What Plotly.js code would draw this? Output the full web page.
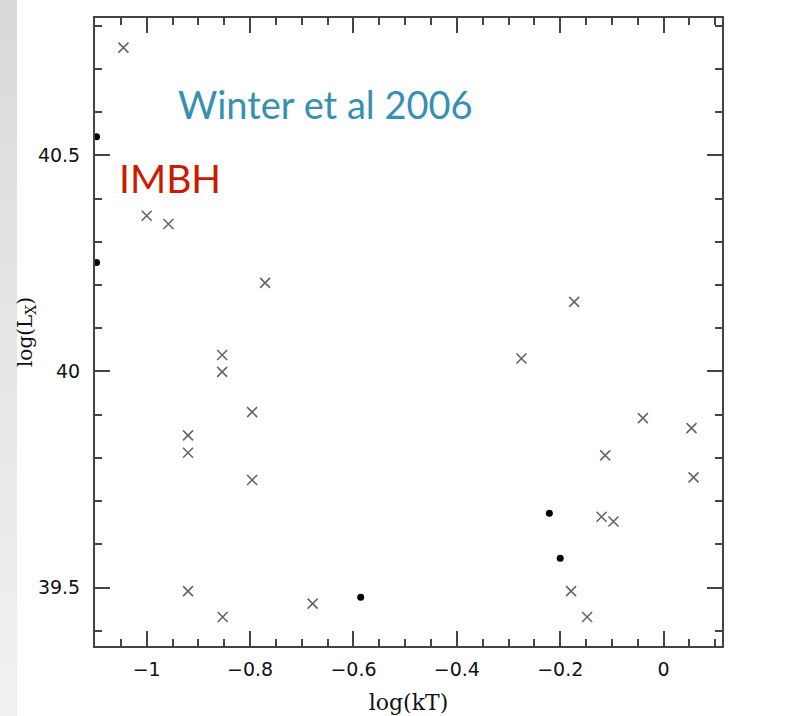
<!DOCTYPE html>
<html>
<head>
<meta charset="utf-8">
<script src="https://cdn.plot.ly/plotly-3.0.1.min.js"></script>
<style>
  html, body { margin: 0; padding: 0; background: #ffffff; }
  #strip { position: absolute; left: 0; top: 0; width: 17px; height: 716px;
           background: linear-gradient(to bottom, #d9d9d9 0%, #e6e6e6 50%, #f1f1f1 100%); z-index: 0; }
  #chart { position: absolute; left: 0; top: 0; width: 787px; height: 716px; z-index: 1; }
</style>
</head>
<body>
<div id="strip"></div>
<div id="chart"></div>
<script>
// Sources shown as crosses: log(kT), log(Lx)
const crossKT = [-1.045, -1.000, -0.958, -0.771, -0.854, -0.854, -0.796, -0.920, -0.920, -0.796,
                 -0.920, -0.853, -0.679, -0.275, -0.173, -0.040, -0.113, 0.054, 0.058, -0.120,
                 -0.097, -0.179, -0.148];
const crossLx = [40.749, 40.360, 40.341, 40.205, 40.038, 39.999, 39.906, 39.852, 39.812, 39.749,
                 39.492, 39.432, 39.463, 40.030, 40.161, 39.892, 39.806, 39.869, 39.755, 39.664,
                 39.653, 39.492, 39.432];
// Sources shown as filled dots
const dotKT = [-1.097, -1.097, -0.221, -0.200, -0.586];
const dotLx = [40.543, 40.252, 39.672, 39.568, 39.478];

const xTitle = 'log(kT)';
const yTitle = 'log(L<sub>X</sub>)';
const note1 = 'Winter et al 2006';
const note2 = 'IMBH';

const axisColor = '#444444';
const tickFont = {family: 'DejaVu Sans', size: 19, color: '#111111'};

const traces = [
  {x: crossKT, y: crossLx, type: 'scatter', mode: 'markers', cliponaxis: false,
   marker: {symbol: 'x-thin-open', size: 10, line: {width: 1.6, color: '#666666'}, color: '#666666'},
   hoverinfo: 'x+y'},
  {x: dotKT, y: dotLx, type: 'scatter', mode: 'markers', cliponaxis: false,
   marker: {symbol: 'circle', size: 7, color: '#000000'}, hoverinfo: 'x+y'}
];

const layout = {
  width: 787, height: 716,
  margin: {l: 95, r: 65, t: 18, b: 70},
  paper_bgcolor: 'rgba(0,0,0,0)',
  plot_bgcolor: '#ffffff',
  showlegend: false,
  xaxis: {
    range: [-1.1, 0.113], tick0: 0, dtick: 0.2, showgrid: false, zeroline: false,
    ticks: 'inside', ticklen: 15, tickwidth: 1.5, tickcolor: axisColor,
    showline: true, linewidth: 2, linecolor: axisColor, mirror: 'allticks',
    tickfont: tickFont, ticklabelstandoff: 5,
    minor: {dtick: 0.05, tick0: 0, ticks: 'inside', ticklen: 7, tickwidth: 1.5, tickcolor: axisColor, showgrid: false},
    title: {text: xTitle, font: {family: 'DejaVu Serif', size: 22, color: '#111111'}, standoff: 16}
  },
  yaxis: {
    range: [39.365, 40.8175], tick0: 0, dtick: 0.5, showgrid: false, zeroline: false,
    ticks: 'inside', ticklen: 15, tickwidth: 1.5, tickcolor: axisColor,
    showline: true, linewidth: 2, linecolor: axisColor, mirror: 'allticks',
    tickfont: tickFont, ticklabelstandoff: 9,
    minor: {dtick: 0.1, tick0: 0, ticks: 'inside', ticklen: 7, tickwidth: 1.5, tickcolor: axisColor, showgrid: false},
    title: {text: yTitle, font: {family: 'DejaVu Serif', size: 20, color: '#111111'}, standoff: 0}
  },
  annotations: [
    {text: note1, x: -0.944, y: 40.619, xref: 'x', yref: 'y', xanchor: 'left', yanchor: 'middle',
     showarrow: false, font: {family: 'Lato', size: 38, color: '#3590B2'}},
    {text: note2, x: -1.058, y: 40.447, xref: 'x', yref: 'y', xanchor: 'left', yanchor: 'middle',
     showarrow: false, font: {family: 'Lato', size: 39, color: '#CC1A00'}}
  ]
};

Plotly.newPlot('chart', traces, layout, {displayModeBar: false});
</script>
</body>
</html>
